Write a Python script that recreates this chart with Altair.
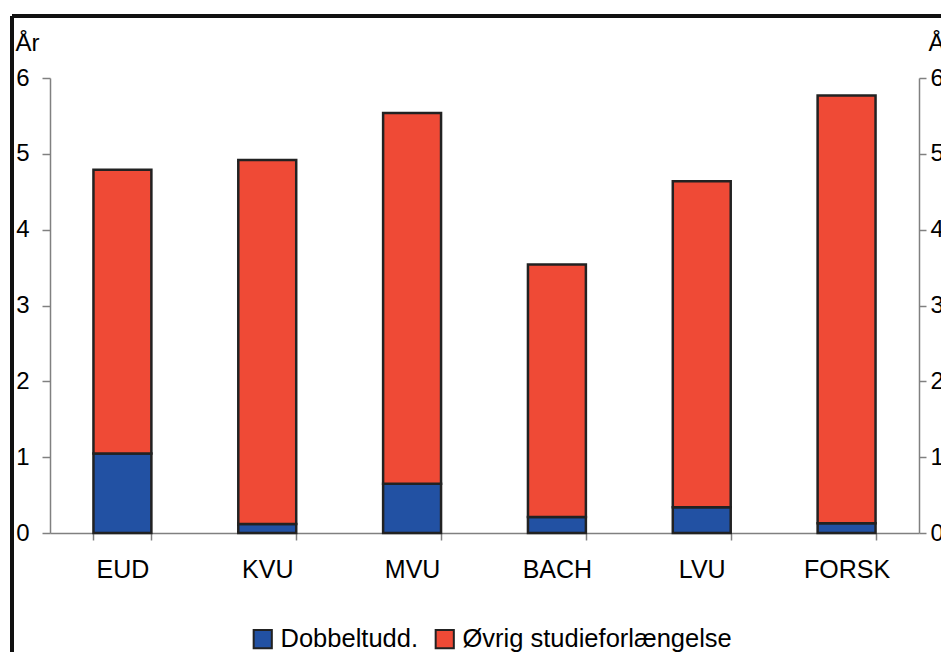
import altair as alt
import pandas as pd

categories = ["EUD", "KVU", "MVU", "BACH", "LVU", "FORSK"]
dobbelt = [1.05, 0.12, 0.65, 0.21, 0.34, 0.13]
oevrig = [3.74, 4.80, 4.89, 3.33, 4.30, 5.64]
series = ["Dobbeltudd.", "Øvrig studieforlængelse"]
colors = ["#2251A3", "#EF4A36"]

rows = []
for c, a, b in zip(categories, dobbelt, oevrig):
    rows.append({"kat": c, "serie": series[0], "v": a, "o": 0})
    rows.append({"kat": c, "serie": series[1], "v": b, "o": 1})
df = pd.DataFrame(rows)

FONT = "Liberation Sans"
GRAY = "#808080"
FS = 25
YFS = 24

base = alt.Chart(df)

bars = base.mark_bar(stroke="#222222", strokeWidth=2.5).encode(
    x=alt.X("kat:N", sort=categories, title=None,
            scale=alt.Scale(paddingInner=0.6, paddingOuter=0.3),
            axis=alt.Axis(labelAngle=0, labelFontSize=FS, labelFont=FONT, labelColor="black",
                          labelPadding=17, domainColor=GRAY, tickColor=GRAY, tickSize=7,
                          tickBand="extent", domainWidth=1.5, tickWidth=1.5)),
    y=alt.Y("sum(v):Q", title="År",
            scale=alt.Scale(domain=[0, 6], nice=False),
            axis=alt.Axis(values=[0, 1, 2, 3, 4, 5, 6], grid=False, labelFontSize=YFS,
                          labelFont=FONT, labelColor="black", labelPadding=13,
                          domainColor=GRAY, tickColor=GRAY, tickSize=8, domainWidth=1.5, tickWidth=1.5,
                          titleAngle=0, titleFont=FONT, titleFontSize=YFS, titleFontWeight="normal",
                          titleColor="black", titleAlign="left", titleBaseline="alphabetic",
                          titleX=-35, titleY=-28)),
    color=alt.Color("serie:N", sort=series,
                    scale=alt.Scale(domain=series, range=colors),
                    legend=alt.Legend(title=None, orient="none", legendX=200, legendY=548,
                                      direction="horizontal", symbolType="square",
                                      symbolSize=330, symbolStrokeColor="#222222",
                                      symbolStrokeWidth=2, labelFont=FONT, labelFontSize=25.5,
                                      labelColor="black", columnPadding=12, labelOffset=5,
                                      labelLimit=500)),
    order=alt.Order("o:Q", sort="ascending"),
)

right = base.mark_point(opacity=0).encode(
    y=alt.Y("v:Q", title="År",
            scale=alt.Scale(domain=[0, 6], nice=False),
            axis=alt.Axis(orient="right", values=[0, 1, 2, 3, 4, 5, 6], grid=False,
                          labelFontSize=YFS, labelFont=FONT, labelColor="black", labelPadding=4,
                          domainColor=GRAY, tickColor=GRAY, tickSize=7, domainWidth=1.5, tickWidth=1.5,
                          titleAngle=0, titleFont=FONT, titleFontSize=YFS, titleFontWeight="normal",
                          titleColor="black", titleAlign="left", titleBaseline="alphabetic",
                          titleX=9, titleY=-28)),
)

frame_top = alt.Chart(df).mark_rule(color="#111111", strokeWidth=3).encode(
    x=alt.value(-38), x2=alt.value(1000), y=alt.value(-62))
frame_left = alt.Chart(df).mark_rule(color="#111111", strokeWidth=3).encode(
    x=alt.value(-38), y=alt.value(-62), y2=alt.value(700))

chart = alt.layer(bars, right, frame_top, frame_left).resolve_scale(y="independent").properties(
    width=869, height=455,
    autosize=alt.AutoSizeParams(type="none"),
    padding={"left": 42, "top": 70, "right": 22, "bottom": 119},
).configure_view(stroke=None)

chart.save("out.html", embed_options={"renderer": "svg", "actions": False})
